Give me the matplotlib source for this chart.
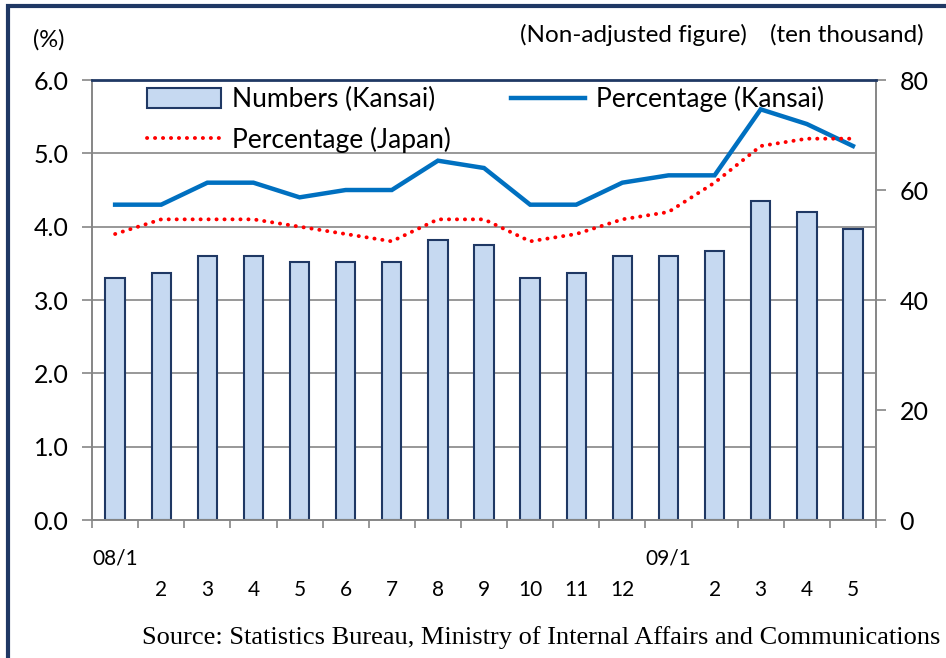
import matplotlib.pyplot as plt
import numpy as np
from matplotlib.patches import Rectangle

months = ["08/1", "2", "3", "4", "5", "6", "7", "8", "9", "10", "11", "12",
          "09/1", "2", "3", "4", "5"]
numbers_kansai = [44, 45, 48, 48, 47, 47, 47, 51, 50, 44, 45, 48, 48, 49, 58, 56, 53]
pct_kansai = [4.3, 4.3, 4.6, 4.6, 4.4, 4.5, 4.5, 4.9, 4.8, 4.3, 4.3, 4.6, 4.7, 4.7, 5.6, 5.4, 5.1]
pct_japan = [3.9, 4.1, 4.1, 4.1, 4.0, 3.9, 3.8, 4.1, 4.1, 3.8, 3.9, 4.1, 4.2, 4.6, 5.1, 5.2, 5.2]

plt.rcParams['font.family'] = ['Lato', 'DejaVu Sans']

fig = plt.figure(figsize=(9.46, 6.58), dpi=100)
ax = fig.add_axes([0.0973, 0.2097, 0.8287, 0.6687])
ax2 = ax.twinx()

x = np.arange(len(months))
n = len(months)

# bars on the right axis
bars = ax2.bar(x, numbers_kansai, width=0.42, color="#C6D9F1", edgecolor="#1F3864",
               linewidth=1.5, label="Numbers (Kansai)", zorder=2)
ax2.set_ylim(0, 80)
ax2.set_yticks([0, 20, 40, 60, 80])

# lines on the left axis, drawn on top
ax.set_zorder(ax2.get_zorder() + 1)
ax.patch.set_visible(False)
l1, = ax.plot(x, pct_kansai, color="#0070C0", lw=3.2, label="Percentage (Kansai)",
              solid_joinstyle="miter", zorder=3)
l2, = ax.plot(x, pct_japan, color="#FF0000", lw=2.8, linestyle=(0, (0.05, 2.0)),
              dash_capstyle="round", label="Percentage (Japan)", zorder=3)
ax.set_ylim(0, 6)
ax.set_yticks(np.arange(0, 6.1, 1.0))
ax.set_yticklabels([f"{v:.1f}" for v in np.arange(0, 6.1, 1.0)])
ax.set_xlim(-0.5, n - 0.5)

for v in [1, 2, 3, 4, 5]:
    ax2.axhline(v / 6 * 80, color="#868686", lw=1.2, zorder=0)
ax.axhline(6, color="#1F3864", lw=2, zorder=4, clip_on=False)

# category boundary ticks
ax.set_xticks(np.arange(-0.5, n, 1.0))
ax.set_xticklabels([])
ax.tick_params(axis="x", length=6, color="#868686", width=1.2)
ax.tick_params(axis="y", length=7, color="#868686", width=1.2, labelsize=18, pad=10)
ax2.tick_params(axis="y", length=7, color="#868686", width=1.2, labelsize=18, pad=10)

for a in (ax, ax2):
    for s in a.spines.values():
        s.set_color("#868686")
        s.set_linewidth(1.2)
    a.spines["top"].set_visible(False)

# two-row month labels
for i, m in enumerate(months):
    if "/" in m:
        ax.text(i, -0.53, m, ha="center", va="center", fontsize=15)
    else:
        ax.text(i, -0.95, m, ha="center", va="center", fontsize=15)

ax.legend([bars, l2, l1], ["Numbers (Kansai)", "Percentage (Japan)", "Percentage (Kansai)"],
          ncol=2, loc="upper left", bbox_to_anchor=(0.04, 1.04), frameon=False,
          fontsize=19, handlelength=2.8, handleheight=0.8, columnspacing=2.3,
          labelspacing=0.55, handletextpad=0.4)

fig.text(33 / 946, 1 - 40 / 658, "(%)", fontsize=17, va="center", ha="left")
fig.text(520 / 946, 1 - 35 / 658, "(Non-adjusted figure)", fontsize=17.5, va="center", ha="left")
fig.text(770 / 946, 1 - 35 / 658, "(ten thousand)", fontsize=17.5, va="center", ha="left")
fig.text(940 / 946, 1 - 638 / 658, "Source: Statistics Bureau, Ministry of Internal Affairs and Communications",
         fontsize=19, family="Liberation Serif", va="center", ha="right")

fig.patches.append(Rectangle((8 / 946, -0.05), 1.1, 1 - 6 / 658 + 0.05, transform=fig.transFigure,
                             fill=False, edgecolor="#1F3864", lw=3))

fig.savefig("out.png", dpi=100)
